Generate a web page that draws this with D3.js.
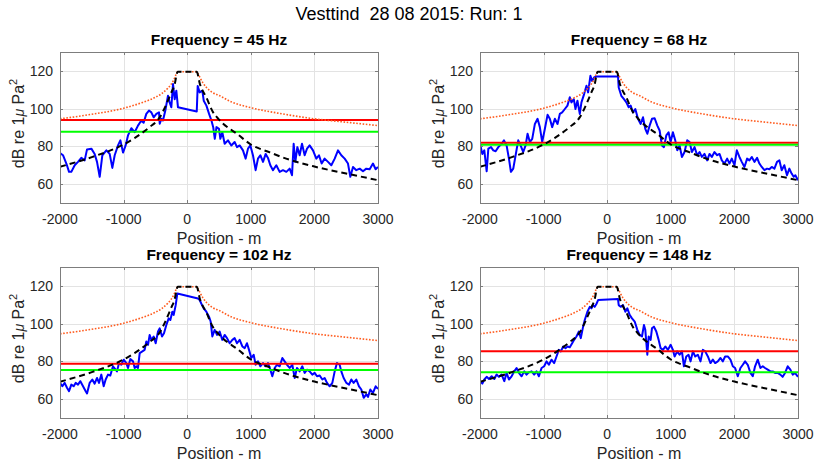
<!DOCTYPE html>
<html><head><meta charset="utf-8">
<script src="https://cdn.jsdelivr.net/npm/d3@7"></script>
<style>
body{margin:0;background:#fff}
svg{display:block;font-family:"Liberation Sans",Arial,Helvetica,sans-serif}
</style>
</head><body>
<svg id="chart" width="816" height="466"></svg>
<script>
// ---------------- data ----------------
const suptitle = "Vesttind  28 08 2015: Run: 1";
const freqs = [45, 68, 102, 148];
const xTicks = [-2000, -1000, 0, 1000, 2000, 3000];
const yTicks = [60, 80, 100, 120];
const xDomain = [-2000, 3000];
const yDomain = [50, 130];
const redLevels = [94, 81.9, 78.8, 85.3];
const greenLevels = [87.7, 80.9, 75.4, 74.2];

const limitCurve = [[-2000,94.6],[-1500,97],[-1000,100.2],[-700,103.3],[-500,106],[-400,108],[-300,111],[-250,113],[-200,116],[-170,118.5],[-150,119.5],[150,119.5],[170,118.5],[200,116.5],[250,113.5],[300,111.3],[400,108.5],[500,107],[700,103.5],[1000,100.5],[1500,97.2],[2000,94.6],[2500,92.8],[3000,91]];

const modelCurve = [[-2000,69.2],[-1500,74.3],[-1000,81],[-800,85],[-600,90],[-430,95.5],[-300,104.5],[-250,108.5],[-200,112.5],[-150,119.5],[150,119.5],[200,113],[300,106],[400,98.5],[500,94.2],[800,86.2],[1000,81],[1300,76.8],[1600,73],[2000,69.3],[2500,65.6],[3000,62.1]];

const run45 = [[-2000,76.5],[-1953,75.3],[-1900,70.9],[-1858,66.5],[-1822,66.5],[-1769,70],[-1717,71.8],[-1665,73.9],[-1612,72.6],[-1575,78.4],[-1507,78.8],[-1455,76],[-1418,71.8],[-1376,63.9],[-1334,75.3],[-1271,77.9],[-1219,76],[-1177,68.6],[-1140,75.3],[-1088,80.5],[-1051,83.2],[-1009,76.7],[-968,80.5],[-931,85.8],[-878,89.6],[-826,87.5],[-774,91],[-721,93.7],[-685,92.5],[-643,97.2],[-601,99],[-564,98],[-527,95.4],[-485,97.2],[-443,98],[-432,92],[-406,94.6],[-381,93.7],[-344,99],[-302,106.8],[-276,103.3],[-250,100.7],[-223,113],[-197,105],[-171,109.5],[-145,100.7],[150,98.5],[165,112],[196,108.6],[238,109.5],[260,104.2],[302,101.6],[344,97.2],[381,93.7],[410,90],[434,84],[460,90.2],[500,89.3],[521,84],[552,87.5],[589,81.4],[641,83.2],[694,80.5],[746,82.3],[783,79.6],[825,80.5],[877,77.9],[919,73.5],[956,78.8],[993,80.5],[1034,75.3],[1076,67.4],[1113,73.5],[1150,75.3],[1192,71.8],[1234,76],[1270,73.9],[1307,70],[1349,67.4],[1401,70],[1454,66.5],[1506,67.4],[1559,66.5],[1611,68.2],[1648,64.7],[1674,81.4],[1700,71.8],[1732,79.6],[1768,75.3],[1805,81.4],[1847,75.3],[1884,78.8],[1925,80.5],[1978,77.9],[2030,73.5],[2072,75.3],[2114,70.9],[2161,73.5],[2214,71.8],[2266,70],[2319,73.5],[2371,77.9],[2423,75.3],[2476,73.5],[2528,70.9],[2565,63.9],[2607,69.1],[2659,67.4],[2712,68.2],[2764,66.8],[2816,68.2],[2869,67.9],[2921,70.9],[2963,67.9],[3000,69.1]];

const run68 = [[-2000,81.4],[-1963,76],[-1932,77.9],[-1895,66.8],[-1869,78.8],[-1827,79.6],[-1791,77.9],[-1754,77.4],[-1712,79.6],[-1660,81.4],[-1623,83.2],[-1582,80.5],[-1545,73.5],[-1514,66.5],[-1477,68.2],[-1440,75.3],[-1399,83.2],[-1362,80.5],[-1320,77],[-1283,80.5],[-1252,86.7],[-1216,82.3],[-1179,84],[-1137,91.9],[-1095,94.6],[-1059,90.2],[-1022,82.3],[-980,89.3],[-938,96.7],[-902,94.6],[-865,90.2],[-823,94.6],[-781,91.9],[-745,97.2],[-708,98],[-666,99.8],[-625,101.6],[-588,106],[-562,103.3],[-525,105],[-499,99.8],[-468,104.2],[-431,97.2],[-405,103.3],[-363,107.7],[-326,112.1],[-300,108.6],[-264,117.4],[-238,114.7],[-206,116.5],[-170,117],[170,117],[181,111.2],[222,106.8],[264,105],[301,103.3],[338,100.7],[369,101.6],[405,98],[442,99.8],[484,94.6],[526,91.9],[563,95.4],[599,89.3],[631,86.7],[667,91],[704,94.6],[746,94.9],[788,91],[824,88.4],[861,80.5],[892,79.6],[929,85.8],[965,87.5],[997,82.3],[1033,87.5],[1070,83.2],[1102,77.9],[1138,80.5],[1175,74.4],[1216,77],[1258,83.2],[1295,82.3],[1332,77],[1373,79.6],[1415,75.3],[1452,77],[1488,74.4],[1530,76],[1572,72.6],[1609,76],[1645,74.4],[1687,77],[1729,75.3],[1766,76],[1802,72.6],[1844,70.9],[1886,73.5],[1922,70.9],[1959,73.5],[2001,70],[2038,77.9],[2079,74.4],[2116,71.8],[2158,69.1],[2200,73.5],[2236,72.6],[2273,74.4],[2315,71.8],[2357,73.9],[2393,70.9],[2430,69.1],[2472,67.4],[2513,68.2],[2550,67.9],[2587,69.1],[2629,68.2],[2670,71.8],[2707,72.6],[2744,67.4],[2785,70],[2827,64.7],[2864,68.2],[2900,65.6],[2932,63.9],[2958,64.7],[3000,62.1]];

const run102 = [[-2000,68.6],[-1963,66.8],[-1927,68.6],[-1890,66],[-1858,64.2],[-1822,67.7],[-1785,66.8],[-1754,68.6],[-1717,67.7],[-1680,69.5],[-1638,66.8],[-1596,64.2],[-1575,63],[-1534,68.6],[-1492,70.4],[-1455,68.2],[-1418,71.2],[-1387,68.6],[-1350,73],[-1313,66.8],[-1282,70.4],[-1245,73],[-1209,72.5],[-1167,77.4],[-1125,75.6],[-1104,74.7],[-1072,79.1],[-1036,78.2],[-999,80.9],[-957,79.1],[-931,76.5],[-894,81.2],[-852,80],[-826,76.5],[-800,77.4],[-774,76.5],[-747,84.4],[-705,85.3],[-669,86.1],[-643,90.5],[-616,88.8],[-590,94],[-564,91.4],[-527,93.2],[-496,89.6],[-459,95.8],[-433,97.5],[-396,93.2],[-365,94.9],[-328,99.3],[-291,102.8],[-265,101.9],[-234,106.3],[-213,104.6],[-181,109.8],[-155,116],[170,113.3],[196,112.5],[233,109.8],[259,108.1],[301,106.3],[343,103.7],[369,101.1],[395,93.2],[432,96.7],[469,94],[510,95.8],[552,91.4],[589,94],[626,92.3],[668,89.6],[710,91.4],[746,92.3],[783,89.6],[825,91.4],[867,87.9],[904,87],[940,89.6],[972,86.1],[1008,81.8],[1045,83.5],[1076,78.2],[1113,80],[1150,77.4],[1192,79.1],[1234,77.4],[1270,79.1],[1307,75.6],[1338,72.1],[1375,76.5],[1412,78.2],[1454,77.4],[1496,81.8],[1532,80],[1569,78.2],[1611,76.5],[1653,78.2],[1690,71.2],[1726,76.5],[1768,74.7],[1810,77.4],[1847,73.9],[1884,75.6],[1925,74.7],[1967,73],[2004,73.9],[2041,72.1],[2083,72.5],[2125,70.4],[2161,71.2],[2198,68.6],[2240,66.8],[2282,68.6],[2319,74.7],[2355,79.1],[2397,78.2],[2423,74.7],[2460,71.2],[2502,68.6],[2544,67.7],[2581,70.4],[2617,68.6],[2659,70.4],[2701,66.8],[2738,65.1],[2775,60.7],[2816,62.5],[2843,61.2],[2879,65.1],[2921,63.3],[2963,66.8],[3000,65.4]];

const run148 = [[-2000,69.5],[-1963,68.2],[-1932,70.4],[-1895,71.8],[-1859,70.7],[-1817,72.1],[-1775,70.7],[-1739,73],[-1702,71.8],[-1660,73],[-1618,69.5],[-1582,73.9],[-1545,70.4],[-1503,72.1],[-1461,74.7],[-1425,76.5],[-1388,73.9],[-1346,72.1],[-1304,74.7],[-1268,73],[-1231,74.2],[-1189,74.7],[-1148,73],[-1111,74.7],[-1074,72.1],[-1032,76.5],[-991,77.4],[-954,80],[-917,78.2],[-876,80.9],[-834,79.1],[-797,82.6],[-760,86.1],[-729,85.3],[-692,87.9],[-656,87],[-624,87.9],[-588,87.5],[-551,89.6],[-520,91.4],[-483,93.2],[-447,95.8],[-415,92.3],[-379,98.4],[-353,101.9],[-311,106.3],[-274,108.9],[-248,108.1],[-222,109.8],[-196,108.9],[-170,110.4],[-143,112.5],[170,113],[181,109.8],[212,108.9],[249,109.8],[285,106.3],[317,108.1],[353,104.6],[390,102.8],[432,101.1],[474,96.7],[510,94],[547,93.2],[578,99.3],[599,96.7],[631,83.5],[652,93.2],[683,91.4],[704,97.5],[735,98.4],[772,95.8],[809,91.4],[840,87],[877,86.1],[913,87.9],[955,86.1],[997,88.8],[1033,86.1],[1060,82.6],[1101,85.3],[1138,83.5],[1175,85.3],[1206,77.4],[1243,82.6],[1279,83.5],[1311,80],[1347,85.3],[1384,82.6],[1426,83.5],[1467,80],[1504,86.1],[1541,85.3],[1583,82.6],[1624,79.1],[1661,80.9],[1698,79.1],[1739,80],[1781,81.8],[1818,80],[1854,82.6],[1896,82.6],[1938,80.9],[1975,77.4],[2011,76.5],[2053,72.1],[2095,76.5],[2132,78.2],[2168,80],[2210,78.2],[2252,73.9],[2289,72.1],[2325,77.4],[2367,80.9],[2409,76.5],[2446,77.4],[2482,76.5],[2524,75.6],[2566,74.7],[2603,74.7],[2639,73.9],[2681,73.9],[2723,73],[2759,71.8],[2796,73.9],[2838,77.4],[2880,75.6],[2917,73],[2953,73.9],[3000,71.8]];

const runs = [run45, run68, run102, run148];

// ---------------- layout ----------------
const svg = d3.select("#chart");
const panelPos = [[60, 52], [480, 52], [60, 267], [480, 267]];
const pw = 318, ph = 151;
const frameColor = "#7d7d7d", textColor = "#262626";

svg.append("text")
  .attr("x", 409).attr("y", 20)
  .attr("text-anchor", "middle")
  .attr("font-size", 18).attr("fill", "#000")
  .attr("xml:space", "preserve")
  .style("white-space", "pre")
  .text(suptitle);

freqs.forEach((f, i) => {
  const [px, py] = panelPos[i];
  const x = d3.scaleLinear().domain(xDomain).range([px, px + pw]);
  const y = d3.scaleLinear().domain(yDomain).range([py + ph, py]);
  const g = svg.append("g");

  // grid
  g.append("g").selectAll("line").data(xTicks.slice(1, -1)).join("line")
    .attr("x1", d => Math.round(x(d)) + 0.5).attr("x2", d => Math.round(x(d)) + 0.5)
    .attr("y1", py).attr("y2", py + ph)
    .attr("stroke", "#e3e3e3").attr("stroke-width", 1);
  g.append("g").selectAll("line").data(yTicks).join("line")
    .attr("y1", d => Math.round(y(d)) + 0.5).attr("y2", d => Math.round(y(d)) + 0.5)
    .attr("x1", px).attr("x2", px + pw)
    .attr("stroke", "#e3e3e3").attr("stroke-width", 1);

  const clipId = "clip" + i;
  svg.append("clipPath").attr("id", clipId).append("rect")
    .attr("x", px).attr("y", py).attr("width", pw).attr("height", ph);
  const plot = g.append("g").attr("clip-path", `url(#${clipId})`);

  const line = d3.line().x(d => x(d[0])).y(d => y(d[1]));
  const smooth = d3.line().x(d => x(d[0])).y(d => y(d[1])).curve(d3.curveMonotoneX);

  plot.append("path").datum(runs[i]).attr("d", line)
    .attr("fill", "none").attr("stroke", "#0000ff").attr("stroke-width", 2)
    .attr("stroke-linejoin", "round");
  plot.append("line").attr("x1", x(xDomain[0])).attr("x2", x(xDomain[1]))
    .attr("y1", y(redLevels[i])).attr("y2", y(redLevels[i]))
    .attr("stroke", "#ff0000").attr("stroke-width", 2);
  plot.append("line").attr("x1", x(xDomain[0])).attr("x2", x(xDomain[1]))
    .attr("y1", y(greenLevels[i])).attr("y2", y(greenLevels[i]))
    .attr("stroke", "#00ff00").attr("stroke-width", 2);
  plot.append("path").datum(limitCurve).attr("d", smooth)
    .attr("fill", "none").attr("stroke", "#ff5c1f").attr("stroke-width", 1.6)
    .attr("stroke-dasharray", "1.6 1.6");
  plot.append("path").datum(modelCurve).attr("d", smooth)
    .attr("fill", "none").attr("stroke", "#000").attr("stroke-width", 2)
    .attr("stroke-dasharray", "6 4");

  // frame
  g.append("rect").attr("x", px + 0.5).attr("y", py + 0.5)
    .attr("width", pw).attr("height", ph)
    .attr("fill", "none").attr("stroke", frameColor).attr("stroke-width", 1);

  // ticks (inward, all sides)
  const tl = 3;
  xTicks.forEach(t => {
    const xx = Math.round(x(t)) + 0.5;
    g.append("line").attr("x1", xx).attr("x2", xx).attr("y1", py + ph).attr("y2", py + ph - tl).attr("stroke", frameColor);
    g.append("line").attr("x1", xx).attr("x2", xx).attr("y1", py).attr("y2", py + tl).attr("stroke", frameColor);
  });
  yTicks.forEach(t => {
    const yy = Math.round(y(t)) + 0.5;
    g.append("line").attr("x1", px).attr("x2", px + tl).attr("y1", yy).attr("y2", yy).attr("stroke", frameColor);
    g.append("line").attr("x1", px + pw).attr("x2", px + pw - tl).attr("y1", yy).attr("y2", yy).attr("stroke", frameColor);
  });

  // tick labels
  g.append("g").selectAll("text").data(xTicks).join("text")
    .attr("x", d => x(d)).attr("y", py + ph + 21)
    .attr("text-anchor", "middle").attr("font-size", 14).attr("fill", textColor)
    .text(d => d);
  g.append("g").selectAll("text").data(yTicks).join("text")
    .attr("x", px - 7).attr("y", d => y(d) + 5)
    .attr("text-anchor", "end").attr("font-size", 14).attr("fill", textColor)
    .text(d => d);

  // title
  g.append("text").attr("x", px + pw / 2).attr("y", py - 7)
    .attr("text-anchor", "middle").attr("font-size", 15.5).attr("font-weight", "bold")
    .attr("fill", "#000").text(`Frequency = ${f} Hz`);

  // x label
  g.append("text").attr("x", px + pw / 2).attr("y", py + ph + 40.5)
    .attr("text-anchor", "middle").attr("font-size", 16).attr("fill", textColor)
    .text("Position - m");

  // y label
  const yl = g.append("text")
    .attr("transform", `translate(${px - 36},${py + ph / 2 - 4}) rotate(-90)`)
    .attr("text-anchor", "middle").attr("font-size", 16).attr("fill", textColor);
  yl.append("tspan").text("dB re 1");
  yl.append("tspan").attr("font-style", "italic").attr("font-size", 14).text("\u03bc");
  yl.append("tspan").text(" Pa");
  yl.append("tspan").attr("font-size", 11).attr("dy", -7).text("2");
});
</script>
</body></html>
